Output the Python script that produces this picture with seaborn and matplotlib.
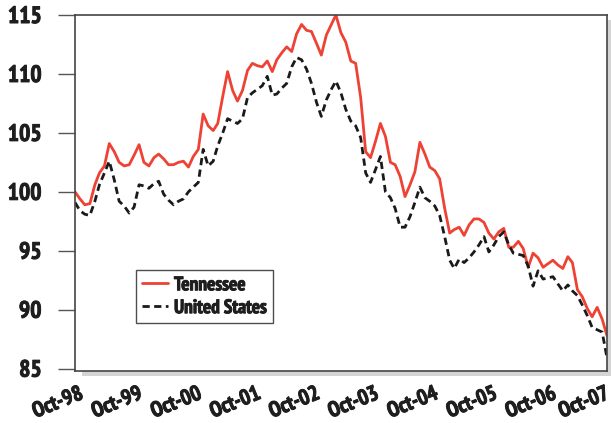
import numpy as np
import pandas as pd
import matplotlib
matplotlib.use("Agg")
import matplotlib.pyplot as plt
import matplotlib.patches as patches
import matplotlib.patheffects as pe
import matplotlib.transforms as mtransforms
from matplotlib import font_manager
import seaborn as sns

# monthly index, Oct-98 through Oct-07
months = pd.date_range("1998-10-01", "2007-10-01", freq="MS")

tennessee = [
    100.0, 99.4, 98.9, 99.0, 100.6, 101.6, 102.2, 104.1, 103.4, 102.5,
    102.2, 102.3, 103.1, 104.0, 102.5, 102.2, 102.9, 103.2, 102.8, 102.3,
    102.3, 102.5, 102.6, 102.1, 103.0, 103.6, 106.6, 105.6, 105.2, 105.8,
    108.1, 110.2, 108.6, 107.7, 108.6, 110.3, 110.9, 110.7, 110.6, 111.1,
    110.2, 111.2, 111.8, 112.3, 111.9, 113.4, 114.2, 113.7, 113.6, 112.6,
    111.6, 113.3, 114.2, 115.0, 113.5, 112.7, 111.1, 110.9, 108.0, 103.4,
    102.9, 104.3, 105.8, 104.7, 102.5, 102.3, 101.3, 99.6, 100.6, 101.7,
    104.2, 103.2, 102.1, 101.8, 101.1, 98.6, 96.5, 96.8, 97.0, 96.3,
    97.2, 97.7, 97.7, 97.4, 96.5, 96.0, 96.6, 96.9, 95.3, 95.3,
    95.8, 95.2, 93.6, 94.8, 94.4, 93.6, 93.9, 94.2, 93.8, 93.5,
    94.5, 94.0, 91.7, 91.1, 90.1, 89.4, 90.2, 89.2, 87.8,
]

united_states = [
    99.1, 98.4, 98.1, 98.0, 99.2, 100.6, 101.6, 102.6, 101.0, 99.2,
    98.8, 98.2, 98.7, 100.6, 100.5, 100.3, 100.7, 100.9, 99.8, 99.3,
    98.9, 99.2, 99.4, 100.0, 100.4, 100.8, 103.6, 102.2, 102.6, 103.9,
    105.0, 106.2, 106.0, 105.8, 106.2, 108.0, 108.4, 108.7, 109.0, 109.8,
    108.2, 108.3, 108.8, 109.2, 110.6, 111.4, 111.2, 110.4, 109.2, 107.6,
    106.4, 107.8, 108.7, 109.4, 108.4, 107.0, 106.0, 105.6, 104.6, 101.6,
    100.8, 101.9, 103.0, 100.0, 99.5, 98.6, 97.0, 97.0, 97.9, 99.1,
    100.4, 99.5, 99.2, 98.8, 98.0, 96.2, 94.2, 93.5, 94.3, 94.0,
    94.4, 94.9, 95.5, 96.2, 94.9, 95.5, 96.2, 96.6, 95.5, 94.8,
    94.7, 94.6, 93.7, 92.0, 93.3, 92.6, 92.7, 92.8, 92.2, 91.6,
    92.1, 91.6, 91.2, 90.4, 89.5, 88.5, 88.3, 88.1, 85.9,
]

y_ticks = [85, 90, 95, 100, 105, 110, 115]

df = pd.DataFrame({"month": months, "Tennessee": tennessee, "United States": united_states})

sns.set_style("white")

# pick a narrow bold face if one is around
have = {f.name for f in font_manager.fontManager.ttflist}
narrow = [n for n in ["PT Sans Narrow", "Archivo Narrow", "Roboto Condensed", "Barlow Condensed",
                      "Liberation Sans Narrow", "Open Sans Condensed"] if n in have]
plt.rcParams["font.family"] = narrow[:1] + ["DejaVu Sans"]
plt.rcParams["font.weight"] = "bold"

# thin outline to make the narrow face look heavier
heavy = [pe.withStroke(linewidth=0.7, foreground="#1e1e1e")]

fig = plt.figure(figsize=(6.11, 4.23), dpi=100)
ax = fig.add_axes([0.1227, 0.1229, 0.8708, 0.8416])

sns.lineplot(data=df, x="month", y="Tennessee", ax=ax, color="#ee4234", linewidth=2.0, label="Tennessee")
sns.lineplot(data=df, x="month", y="United States", ax=ax, color="#1a1a1a", linewidth=2.0,
             linestyle=(0, (2.6, 1.6)), label="United States")

ax.set_xlim(months[0], months[-1])
ax.set_ylim(84.8, 115)
ax.set_yticks(y_ticks)
ax.set_yticklabels([str(v) for v in y_ticks], fontsize=17, fontweight="bold", color="#1e1e1e")

xt = [d for d in months if d.month == 10]
ax.set_xticks(xt)
ax.set_xticklabels([d.strftime("Oct-%y") for d in xt], fontsize=15.5, fontweight="bold",
                   color="#1e1e1e", rotation=22, ha="right", rotation_mode="anchor")
ax.set_xlabel("")
ax.set_ylabel("")

ax.tick_params(axis="y", which="both", left=True, length=12, width=1, color="#555555", pad=12)
ax.tick_params(axis="x", which="both", bottom=False, pad=6)

# nudge the slanted month labels a little to the right (not the last, it sits on the edge)
xlabs = ax.get_xticklabels()
for i, lab in enumerate(xlabs):
    dx = 4 if i < len(xlabs) - 1 else -2
    lab.set_transform(lab.get_transform() + mtransforms.ScaledTranslation(dx / 100, 0, fig.dpi_scale_trans))
    lab.set_path_effects(heavy)
for lab in ax.get_yticklabels():
    lab.set_path_effects(heavy)

for s in ax.spines.values():
    s.set_visible(True)
    s.set_color("#444444")
    s.set_linewidth(1.2)

# drop shadow behind the plot frame
shadow_off = mtransforms.ScaledTranslation(7 / 100, -5 / 100, fig.dpi_scale_trans)
shadow = patches.Rectangle((0, 0), 1, 1, transform=ax.transAxes + shadow_off,
                           facecolor="#d4d4d4", edgecolor="none", zorder=-1, clip_on=False)
fig.patches.append(shadow)
ax.set_facecolor("white")

leg = ax.legend(loc="lower left", bbox_to_anchor=(0.115, 0.135), frameon=True, fancybox=False,
                fontsize=14, handlelength=1.35, handletextpad=0.3, borderpad=0.3,
                labelspacing=0.25, borderaxespad=0)
leg.get_frame().set_edgecolor("#222222")
leg.get_frame().set_linewidth(1.0)
for t in leg.get_texts():
    t.set_fontweight("bold")
    t.set_color("#1e1e1e")
    t.set_path_effects(heavy)

fig.savefig("out.png", dpi=100)
